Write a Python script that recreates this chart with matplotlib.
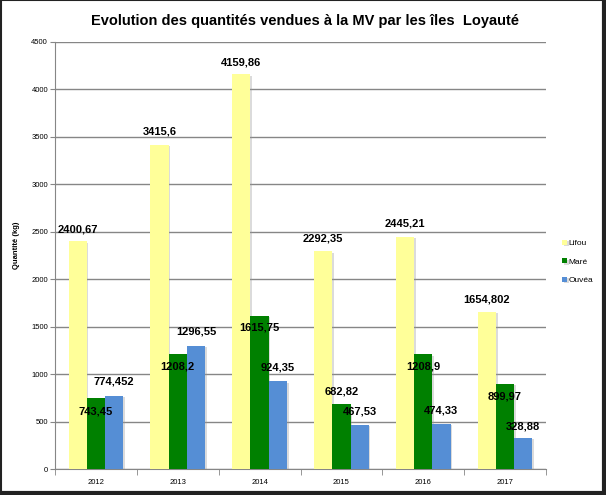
import numpy as np
import matplotlib
matplotlib.use("Agg")
import matplotlib.pyplot as plt
import matplotlib.patheffects as pe
from matplotlib.lines import Line2D

years = ["2012", "2013", "2014", "2015", "2016", "2017"]
lifou = [2400.67, 3415.6, 4159.86, 2292.35, 2445.21, 1654.802]
mare = [743.45, 1208.2, 1615.75, 682.82, 1208.9, 899.97]
ouvea = [774.452, 1296.55, 924.35, 467.53, 474.33, 328.88]
lifou_txt = ["2400,67", "3415,6", "4159,86", "2292,35", "2445,21", "1654,802"]
mare_txt = ["743,45", "1208,2", "1615,75", "682,82", "1208,9", "899,97"]
ouvea_txt = ["774,452", "1296,55", "924,35", "467,53", "474,33", "328,88"]

# vertical label offset in pixels from the bar top (Maré labels mostly sit inside the bar)
lifou_dy = [12, 13, 12, 13, 13, 12]
mare_dy = [-13, -12, -12, 13, -12, -13]
ouvea_dy = [14, 14, 14, 13, 13, 11]

c_lifou = "#FFFF99"
c_mare = "#008000"
c_ouvea = "#558ED5"
grey = "#868686"
font = "Liberation Sans"

plt.rcParams["font.family"] = [font, "DejaVu Sans"]

fig = plt.figure(figsize=(6.06, 4.95), dpi=100)
ax = fig.add_axes([55 / 606, 1 - 469 / 495, 491 / 606, 427 / 495])

x = np.arange(len(years))
w = 0.222
shadow = [pe.SimplePatchShadow(offset=(1.2, -1.0), shadow_rgbFace="#999999", alpha=0.35), pe.Normal()]
groups = [(lifou, lifou_txt, lifou_dy, c_lifou, "Lifou", -w),
          (mare, mare_txt, mare_dy, c_mare, "Maré", 0),
          (ouvea, ouvea_txt, ouvea_dy, c_ouvea, "Ouvéa", w)]
for vals, txts, dys, col, name, dx in groups:
    bars = ax.bar(x + dx, vals, w, color=col, label=name, zorder=3, linewidth=0)
    for b in bars:
        b.set_path_effects(shadow)
    for xi, v, t, dy in zip(x, vals, txts, dys):
        ax.annotate(t, (xi + dx, v), xytext=(0, dy * 0.72),
                    textcoords="offset points", ha="center", va="center",
                    fontsize=8, fontweight="bold", zorder=5)

ax.set_xlim(-0.5, len(years) - 0.5)
ax.set_ylim(0, 4500)
ax.set_yticks(np.arange(0, 4501, 500))
ax.set_xticks(x)
ax.set_xticklabels(years)
ax.set_xticks(np.arange(-0.5, len(years)), minor=True)
ax.tick_params(axis="x", which="major", length=0, labelsize=5.5, pad=7)
ax.tick_params(axis="x", which="minor", length=4, color=grey, direction="out")
ax.tick_params(axis="y", length=3.5, color=grey, labelsize=5.5, pad=1.5)
ax.yaxis.grid(True, color=grey, linewidth=1, zorder=0)
for s in ["top", "right"]:
    ax.spines[s].set_visible(False)
for s in ["left", "bottom"]:
    ax.spines[s].set_color(grey)
ax.set_ylabel("Quantité (kg)", fontsize=5.5, fontweight="bold")
ax.yaxis.set_label_coords(-0.071, 0.525)

ax.legend(loc="center left", bbox_to_anchor=(1.0, 0.485), frameon=False,
          fontsize=6, handlelength=0.6, handleheight=0.6, handletextpad=0.2,
          labelspacing=1.3, borderaxespad=1.5)

fig.text(0.503, 0.958, "Evolution des quantités vendues à la MV par les îles  Loyauté",
         fontsize=10.5, fontweight="bold", ha="center", va="center")

# frame around the chart, heavier on the right and bottom
fig.add_artist(Line2D([0, 1], [0.999, 0.999], transform=fig.transFigure, color="#222222", lw=1.5))
fig.add_artist(Line2D([0.001, 0.001], [0, 1], transform=fig.transFigure, color="#222222", lw=1.5))
fig.add_artist(Line2D([0.997, 0.997], [0, 1], transform=fig.transFigure, color="#222222", lw=3))
fig.add_artist(Line2D([0, 1], [0.004, 0.004], transform=fig.transFigure, color="#222222", lw=3))
fig.savefig("out.png", dpi=100)
